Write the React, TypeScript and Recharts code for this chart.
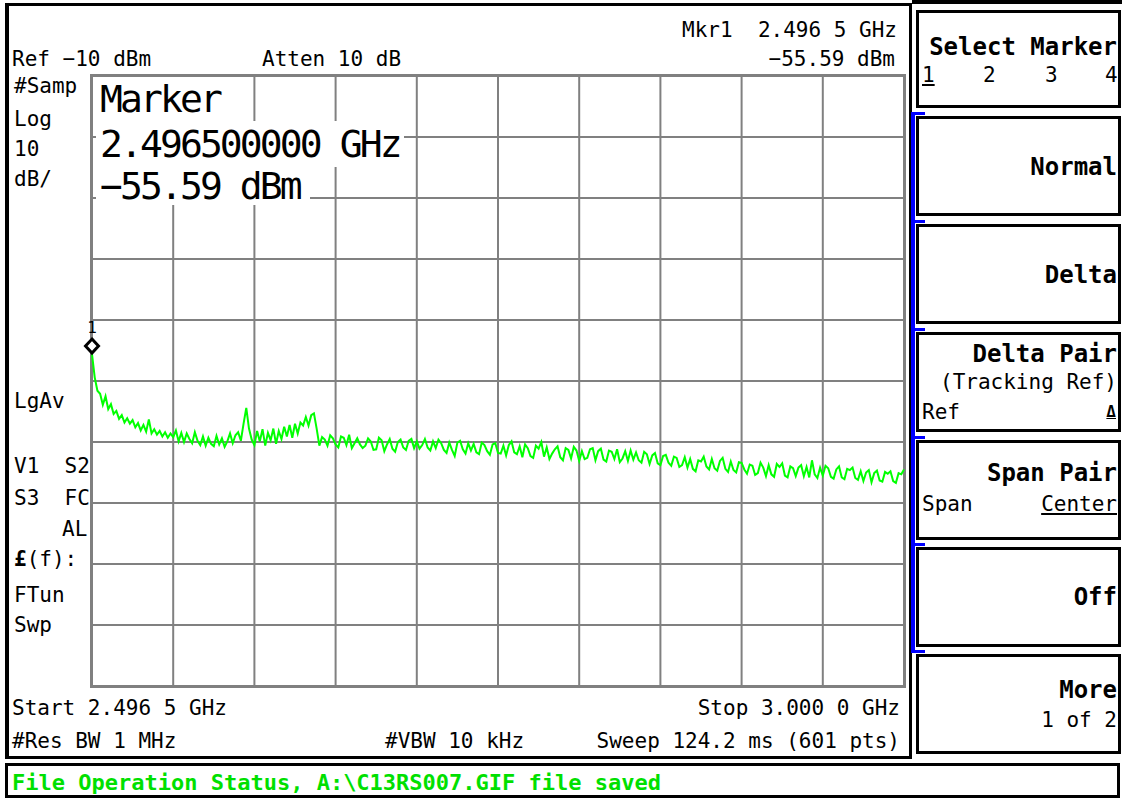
import { CartesianGrid, Line, LineChart, ReferenceDot, XAxis, YAxis } from "recharts";

const START_GHZ = 2.4965;
const STOP_GHZ = 3.0;
const REF_DBM = -10;
const DB_PER_DIV = 10;
const DIVS = 10;

const markerGhz = 2.4965;
const markerDbm = -55.59;

// 301 readings (every other sweep point of 601)
const traceDbm = [
  -55.6, -59.4, -61.6, -62.1, -63.9, -62.5, -64.6, -63.8, -65.4, -64.9,
  -66.2, -65.6, -66.8, -66.1, -67.0, -66.4, -67.6, -66.9, -68.1, -67.2,
  -68.3, -66.3, -68.6, -67.9, -68.8, -68.2, -69.1, -68.4, -69.3, -68.6,
  -69.2, -68.1, -69.9, -68.5, -70.0, -68.6, -69.5, -70.2, -68.4, -69.8,
  -70.5, -69.1, -70.6, -69.3, -70.3, -70.7, -69.0, -70.4, -69.4, -70.8,
  -69.9, -68.6, -70.2, -68.9, -68.4, -69.8, -67.0, -64.4, -67.8, -69.6,
  -70.5, -68.2, -69.9, -67.9, -70.6, -68.5, -69.7, -67.8, -70.3, -68.2,
  -69.5, -67.5, -69.1, -67.2, -69.3, -67.0, -68.6, -66.8,
  -67.3, -65.9, -67.3, -65.6, -65.3, -67.8, -70.6,
  -69.2, -69.6, -70.6, -68.9, -69.4, -70.4, -70.9, -69.1, -69.3, -70.5,
  -68.8, -71.0, -70.2, -69.4, -70.4,
  -71.0, -70.6, -69.4, -69.9, -71.3, -71.2, -69.3, -69.7, -71.5, -70.4,
  -69.5, -71.1, -71.6, -70.0, -69.6, -70.9, -71.3, -69.8, -69.5, -71.0,
  -69.9, -71.1, -70.5, -69.5, -70.9, -71.4, -69.9, -71.0, -69.6, -70.2,
  -71.3, -71.8, -70.1, -71.3, -72.3, -70.1, -69.8, -71.2, -71.9, -70.2,
  -71.4, -70.3, -71.7, -72.0, -70.1, -70.5, -71.5, -72.1, -70.4, -70.2,
  -71.8, -71.9, -70.6, -72.2, -70.5, -69.9, -71.7, -72.0, -70.7, -72.5,
  -70.4, -71.0, -72.3, -72.6, -70.6, -71.1, -70.0, -72.4, -70.9, -72.8,
  -71.9, -71.2, -70.7, -72.5, -73.0, -71.0, -71.3, -72.7, -70.8, -71.4,
  -73.1, -71.5, -72.8, -72.6, -71.2, -71.0, -73.0, -71.5, -71.1, -72.9,
  -73.2, -71.4, -71.6, -72.8, -71.2, -73.3, -72.7, -71.5, -73.1, -71.4,
  -72.9, -71.7, -73.0, -73.4, -71.6, -72.0, -73.6, -72.2, -71.8, -73.5,
  -73.8, -72.3, -72.1, -73.4, -73.9, -72.4, -72.6, -74.1, -73.8, -72.5,
  -74.2, -72.8, -74.4, -74.8, -73.0, -73.2, -72.4, -74.0, -74.5, -72.8,
  -74.3, -74.7, -73.1, -72.6, -74.4, -74.9, -73.2, -74.6, -75.0, -73.3,
  -73.4, -74.5, -75.2, -73.7, -73.9, -75.4, -75.1, -73.4, -74.2, -75.6,
  -73.8, -75.3, -75.7, -73.6, -74.1, -73.5, -75.5, -75.8, -74.0, -74.3,
  -75.6, -74.2, -73.8, -75.6, -74.1, -75.8, -73.0, -75.3, -75.9, -74.2,
  -75.5, -73.9, -74.3, -75.7, -76.0, -74.5, -74.0, -75.8, -76.1, -74.4,
  -74.6, -74.2, -75.9, -76.2, -74.8, -76.4, -75.0, -74.6, -76.6, -75.1,
  -74.7, -76.3, -76.5, -74.9, -75.2, -74.8, -76.4, -76.7, -75.1, -75.3,
  -74.5,
];

const rows = traceDbm.map((dbm, i) => ({
  f: START_GHZ + (i * (STOP_GHZ - START_GHZ)) / (traceDbm.length - 1),
  dbm,
}));

const freqTicks = Array.from({ length: DIVS + 1 }, (_, k) => START_GHZ + (k * (STOP_GHZ - START_GHZ)) / DIVS);
const levelTicks = Array.from({ length: DIVS + 1 }, (_, k) => REF_DBM - DB_PER_DIV * DIVS + k * DB_PER_DIV);

const MONO = '"DejaVu Sans Mono", monospace';
const GRID = "#808080";
const TRACE = "#00ff00";
const W = 1122;

function T({
  x,
  r,
  y,
  size = 21,
  bold = false,
  color = "#000",
  under = false,
  children,
}: {
  x?: number;
  r?: number;
  y: number;
  size?: number;
  bold?: boolean;
  color?: string;
  under?: boolean;
  children: React.ReactNode;
}) {
  return (
    <div
      style={{
        position: "absolute",
        left: x,
        right: r !== undefined ? W - r : undefined,
        top: y,
        fontFamily: MONO,
        fontSize: size,
        lineHeight: `${size}px`,
        fontWeight: bold ? "bold" : "normal",
        color,
        whiteSpace: "pre",
        textDecoration: under ? "underline" : "none",
      }}
    >
      {children}
    </div>
  );
}

function Box({ x, y, w, h, b = 3 }: { x: number; y: number; w: number; h: number; b?: number }) {
  return (
    <div
      style={{
        position: "absolute",
        left: x,
        top: y,
        width: w,
        height: h,
        boxSizing: "border-box",
        border: `${b}px solid #000`,
      }}
    />
  );
}

function BigLine({ y, h, w, children }: { y: number; h: number; w: number; children: React.ReactNode }) {
  return (
    <div
      style={{
        position: "absolute",
        left: 96,
        top: y,
        height: h,
        width: w,
        background: "#fff",
        fontFamily: MONO,
        fontSize: 38,
        lineHeight: `${h}px`,
        letterSpacing: -2.9,
        paddingLeft: 4,
        whiteSpace: "pre",
        color: "#000",
      }}
    >
      {children}
    </div>
  );
}

const MarkerShape = (props: any) => {
  const { cx, cy } = props;
  const c = cy - 8;
  return (
    <g>
      <path
        d={`M${cx} ${c - 7} L${cx + 6.5} ${c} L${cx} ${c + 7} L${cx - 6.5} ${c} Z`}
        fill="#fff"
        stroke="#000"
        strokeWidth={3}
      />
      <text x={cx} y={cy - 21} textAnchor="middle" fontFamily={MONO} fontSize={16} fill="#000">
        1
      </text>
    </g>
  );
};

const softkeyBoxes = [10, 116, 224, 332, 440, 547, 654];
const blueTicks = [112, 220, 328, 436, 543, 650];

export default function App() {
  return (
    <div style={{ position: "fixed", left: 0, top: 0, width: W, height: 801, background: "#fff", overflow: "hidden" }}>
      {/* main display frame */}
      <Box x={5} y={3} w={907} h={756} b={3} />
      <div style={{ position: "absolute", left: 5, top: 3, width: 4, height: 756, background: "#000" }} />

      {/* graticule border, under the chart so the marker sits on top */}
      <div
        style={{
          position: "absolute",
          left: 90,
          top: 74,
          width: 816,
          height: 614,
          boxSizing: "border-box",
          border: `3px solid ${GRID}`,
        }}
      />

      {/* graticule + trace */}
      <div style={{ position: "absolute", left: 72, top: 56 }}>
        <LineChart width={852} height={650} data={rows} margin={{ top: 20, right: 20, bottom: 20, left: 20 }}>
          <XAxis type="number" dataKey="f" domain={[START_GHZ, STOP_GHZ]} ticks={freqTicks} interval={0} hide />
          <YAxis type="number" domain={[REF_DBM - DB_PER_DIV * DIVS, REF_DBM]} ticks={levelTicks} interval={0} hide />
          <CartesianGrid stroke={GRID} strokeWidth={2} />
          <Line
            type="linear"
            dataKey="dbm"
            stroke={TRACE}
            strokeWidth={2}
            dot={false}
            activeDot={false}
            isAnimationActive={false}
          />
          <ReferenceDot x={markerGhz} y={markerDbm} shape={MarkerShape} ifOverflow="visible" />
        </LineChart>
      </div>

      {/* marker readout inside the graticule */}
      <BigLine y={77} h={44} w={130}>Marker</BigLine>
      <BigLine y={121} h={46} w={304}>2.496500000 GHz</BigLine>
      <BigLine y={167} h={38} w={210}>−55.59 dBm</BigLine>

      {/* header */}
      <T r={897} y={20}>Mkr1  2.496 5 GHz</T>
      <T r={895} y={49}>−55.59 dBm</T>
      <T x={12} y={49}>Ref −10 dBm</T>
      <T x={262} y={49}>Atten 10 dB</T>

      {/* left annotations */}
      <T x={14} y={76}>#Samp</T>
      <T x={14} y={109}>Log</T>
      <T x={14} y={139}>10</T>
      <T x={14} y={169}>dB/</T>
      <T x={14} y={391}>LgAv</T>
      <T x={14} y={456}>V1  S2</T>
      <T x={14} y={488}>S3  FC</T>
      <T x={62} y={519}>AL</T>
      <T x={14} y={549}>
        <b>£</b>(f):
      </T>
      <T x={14} y={585}>FTun</T>
      <T x={14} y={615}>Swp</T>

      {/* footer */}
      <T x={12} y={698}>Start 2.496 5 GHz</T>
      <T r={900} y={698}>Stop 3.000 0 GHz</T>
      <T x={12} y={731}>#Res BW 1 MHz</T>
      <T x={385} y={731}>#VBW 10 kHz</T>
      <T r={900} y={731}>Sweep 124.2 ms (601 pts)</T>

      {/* softkeys */}
      <div style={{ position: "absolute", left: 912, top: 0, width: 210, height: 4, background: "#000" }} />
      <div style={{ position: "absolute", left: 911, top: 112, width: 4, height: 541, background: "#0000ff" }} />
      {blueTicks.map((y) => (
        <div key={y} style={{ position: "absolute", left: 911, top: y, width: 14, height: 3, background: "#0000ff" }} />
      ))}
      {softkeyBoxes.map((y, i) => (
        <Box key={y} x={916} y={y} w={205} h={i === 0 ? 98 : 100} b={3} />
      ))}
      <T r={1117} y={35} size={24} bold>Select Marker</T>
      <T x={922} y={65} under>1</T>
      <T x={983} y={65}>2</T>
      <T x={1045} y={65}>3</T>
      <T x={1105} y={65}>4</T>
      <T r={1117} y={155} size={24} bold>Normal</T>
      <T r={1117} y={263} size={24} bold>Delta</T>
      <T r={1117} y={342} size={24} bold>Delta Pair</T>
      <T r={1117} y={372}>(Tracking Ref)</T>
      <T x={922} y={402}>Ref</T>
      <T r={1116} y={404} size={16} bold under>Δ</T>
      <T r={1117} y={461} size={24} bold>Span Pair</T>
      <T x={922} y={494}>Span</T>
      <T r={1117} y={494} under>Center</T>
      <T r={1117} y={585} size={24} bold>Off</T>
      <T r={1117} y={678} size={24} bold>More</T>
      <T r={1117} y={710}>1 of 2</T>

      {/* status line */}
      <Box x={5} y={763} w={1115} h={35} b={3} />
      <T x={12} y={772} size={22} bold color="#00e000">
        File Operation Status, A:\C13RS007.GIF file saved
      </T>
    </div>
  );
}
